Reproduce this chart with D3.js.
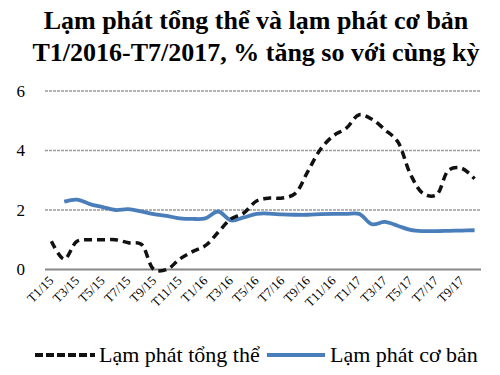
<!DOCTYPE html>
<html>
<head>
<meta charset="utf-8">
<script src="https://cdn.jsdelivr.net/npm/d3@7"></script>
<style>
  body { margin: 0; background: #fff; }
  svg text { font-family: "Times New Roman", Times, Tinos, "Liberation Serif", "Noto Serif", "DejaVu Serif", FreeSerif, serif; }
</style>
</head>
<body>
<svg id="chart" width="500" height="375"></svg>
<script>
// months on the category axis (T1/15 .. T10/17)
const months = [
  "T1/15", "T2/15", "T3/15", "T4/15", "T5/15", "T6/15", "T7/15", "T8/15", "T9/15", "T10/15", "T11/15", "T12/15",
  "T1/16", "T2/16", "T3/16", "T4/16", "T5/16", "T6/16", "T7/16", "T8/16", "T9/16", "T10/16", "T11/16", "T12/16",
  "T1/17", "T2/17", "T3/17", "T4/17", "T5/17", "T6/17", "T7/17", "T8/17", "T9/17", "T10/17"
];
const tickMonths = months.filter((_d, i) => i % 2 === 0);

// headline inflation (dashed black)
const headline = [
  0.95, 0.35, 0.95, 1.0, 1.0, 1.0, 0.9, 0.85, 0.0, 0.0, 0.35, 0.6,
  0.8, 1.25, 1.7, 1.9, 2.3, 2.4, 2.4, 2.55, 3.3, 4.05, 4.5, 4.75,
  5.2, 5.05, 4.7, 4.3, 3.2, 2.55, 2.5, 3.35, 3.4, 3.05
];
// core inflation (blue), no value for the first month
const core = [
  null, 2.28, 2.35, 2.2, 2.1, 2.0, 2.03, 1.95, 1.86, 1.8, 1.72, 1.7,
  1.72, 1.95, 1.65, 1.75, 1.87, 1.88, 1.85, 1.84, 1.84, 1.86, 1.87, 1.87,
  1.87, 1.52, 1.6, 1.47, 1.33, 1.29, 1.29, 1.3, 1.31, 1.32
];
const yTicks = [0, 2, 4, 6];
const titleLines = [
  "Lạm phát tổng thể và lạm phát cơ bản",
  "T1/2016-T7/2017, % tăng so với cùng kỳ"
];
const seriesNames = ["Lạm phát tổng thể", "Lạm phát cơ bản"];

const svg = d3.select("#chart");

const x = d3.scaleBand().domain(months).range([45, 481]);
const y = d3.scaleLinear().domain([0, 6]).range([269.5, 91]);
const cx = (m) => x(m) + x.bandwidth() / 2;

// title
svg.selectAll("text.title")
  .data(titleLines)
  .join("text")
  .attr("class", "title")
  .attr("x", 256)
  .attr("y", (_d, i) => 29 + i * 32)
  .attr("text-anchor", "middle")
  .attr("font-size", 26)
  .attr("font-weight", "bold")
  .text((d) => d);

// gridlines
svg.selectAll("line.grid")
  .data(yTicks.filter((d) => d !== 0))
  .join("line")
  .attr("class", "grid")
  .attr("x1", 45)
  .attr("x2", 481)
  .attr("y1", (d) => y(d))
  .attr("y2", (d) => y(d))
  .attr("stroke", "#9a9a9a")
  .attr("stroke-width", 1.5)
  .attr("stroke-dasharray", "3,1");

// y labels
svg.selectAll("text.ylab")
  .data(yTicks)
  .join("text")
  .attr("class", "ylab")
  .attr("x", 25)
  .attr("y", (d) => y(d))
  .attr("dy", "0.35em")
  .attr("text-anchor", "end")
  .attr("font-size", 17)
  .text((d) => d);

// x axis line
svg.append("line")
  .attr("x1", 45)
  .attr("x2", 481)
  .attr("y1", y(0))
  .attr("y2", y(0))
  .attr("stroke", "#888")
  .attr("stroke-width", 2);

// x labels, rotated
svg.selectAll("text.xlab")
  .data(tickMonths)
  .join("text")
  .attr("class", "xlab")
  .attr("transform", (d) => `translate(${cx(d) + 3},${y(0) + 12}) rotate(-45)`)
  .attr("text-anchor", "end")
  .attr("font-size", 13)
  .text((d) => d);

const line = d3.line()
  .defined((d) => d != null)
  .x((_d, i) => cx(months[i]))
  .y((d) => y(d))
  .curve(d3.curveCatmullRom);

svg.append("path")
  .datum(core)
  .attr("d", line)
  .attr("fill", "none")
  .attr("stroke", "#4a7ebb")
  .attr("stroke-width", 3.8);

svg.append("path")
  .datum(headline)
  .attr("d", line)
  .attr("fill", "none")
  .attr("stroke", "#111")
  .attr("stroke-width", 3.5)
  .attr("stroke-dasharray", "8,5");

// legend
const legend = [
  { name: seriesNames[0], x0: 35, x1: 95, tx: 99, color: "#111", dash: "8,3" },
  { name: seriesNames[1], x0: 267, x1: 325, tx: 330, color: "#4a7ebb", dash: null }
];
const lg = svg.selectAll("g.legend")
  .data(legend)
  .join("g")
  .attr("class", "legend");
lg.append("line")
  .attr("x1", (d) => d.x0)
  .attr("x2", (d) => d.x1)
  .attr("y1", 355)
  .attr("y2", 355)
  .attr("stroke", (d) => d.color)
  .attr("stroke-width", 4)
  .attr("stroke-dasharray", (d) => d.dash);
lg.append("text")
  .attr("x", (d) => d.tx)
  .attr("y", 362)
  .attr("font-size", 22)
  .text((d) => d.name);
</script>
</body>
</html>
